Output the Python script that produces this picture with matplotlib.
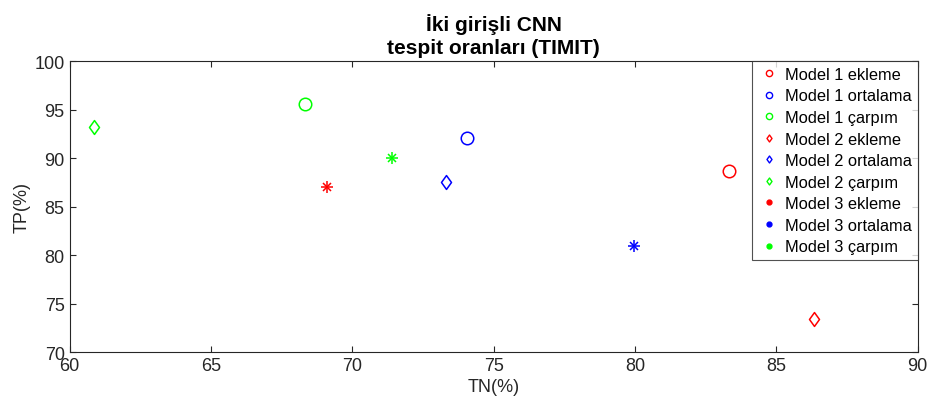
import matplotlib
matplotlib.use("Agg")
import matplotlib.pyplot as plt
from matplotlib.lines import Line2D
from matplotlib.path import Path

plt.rcParams['font.family'] = ['Liberation Sans', 'DejaVu Sans']

# TN(%) / TP(%) per model and fusion type
labels = ["Model 1 ekleme", "Model 1 ortalama", "Model 1 çarpım",
          "Model 2 ekleme", "Model 2 ortalama", "Model 2 çarpım",
          "Model 3 ekleme", "Model 3 ortalama", "Model 3 çarpım"]
tn = [83.34, 74.05, 68.32, 86.34, 73.30, 60.87, 69.10, 79.95, 71.40]
tp = [88.7, 92.1, 95.6, 73.4, 87.6, 93.2, 87.0, 80.9, 90.0]

colors = ['#ff0000', '#0000ff', '#00ff00'] * 3
kinds = ['o'] * 3 + ['d'] * 3 + ['*'] * 3

# matlab-like diamond
diamond = Path([(0, 1), (0.72, 0), (0, -1), (-0.72, 0), (0, 1)],
               [Path.MOVETO, Path.LINETO, Path.LINETO, Path.LINETO, Path.CLOSEPOLY])

fig = plt.figure(figsize=(9.31, 4.10), dpi=100)
ax = fig.add_axes([0.0747, 0.139, 0.911, 0.7086])

for i in range(len(labels)):
    c = colors[i]
    if kinds[i] == 'o':
        ax.plot(tn[i], tp[i], 'o', mfc='none', mec=c, ms=9, mew=1.1)
    elif kinds[i] == 'd':
        ax.plot(tn[i], tp[i], linestyle='none', marker=diamond, mfc='none',
                mec=c, ms=10, mew=1.1)
    else:
        # asterisk = plus + cross
        ax.plot(tn[i], tp[i], '+', mec=c, ms=8, mew=1.1)
        ax.plot(tn[i], tp[i], 'x', mec=c, ms=6, mew=1.1)

handles = []
for i in range(len(labels)):
    c = colors[i]
    if kinds[i] == 'o':
        h = Line2D([], [], linestyle='none', marker='o', mfc='none', mec=c, ms=4.5, mew=1.0)
    elif kinds[i] == 'd':
        h = Line2D([], [], linestyle='none', marker=diamond, mfc='none', mec=c, ms=5, mew=1.0)
    else:
        h = Line2D([], [], linestyle='none', marker='.', mfc=c, mec=c, ms=7)
    handles.append(h)

leg = ax.legend(handles, labels, loc='upper right', fontsize=11.8, frameon=True,
                fancybox=False, borderaxespad=0, handlelength=1.4,
                labelspacing=0.4, borderpad=0.33, handletextpad=0.28)
leg.get_frame().set_edgecolor('#262626')
leg.get_frame().set_linewidth(0.8)

ax.set_xlim(60, 90)
ax.set_ylim(70, 100)
ax.set_xticks(range(60, 91, 5))
ax.set_yticks(range(70, 101, 5))
ax.tick_params(direction='in', top=True, right=True, labelsize=13,
               colors='#262626', length=4)
for s in ax.spines.values():
    s.set_color('#262626')
    s.set_linewidth(0.8)

ax.set_xlabel("TN(%)", fontsize=13, color='#262626', labelpad=3)
ax.set_ylabel("TP(%)", fontsize=13, color='#262626', labelpad=3)
ax.set_title("İki girişli CNN\ntespit oranları (TIMIT)", fontsize=15,
             fontweight='bold', pad=6, linespacing=1.3)

fig.savefig("out.png", dpi=100)
